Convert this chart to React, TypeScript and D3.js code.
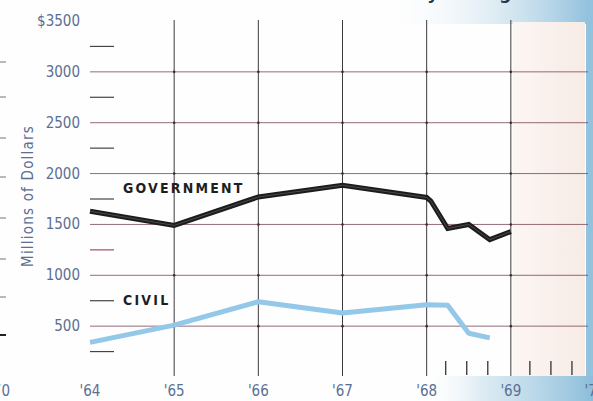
import React from "react";
import * as d3 from "d3";

const yearTicks = [1964, 1965, 1966, 1967, 1968, 1969, 1970];
const yearLabels = ["'64", "'65", "'66", "'67", "'68", "'69", "'70"];
const gridYears = [1965, 1966, 1967, 1968, 1969];
const valueTicks = [500, 1000, 1500, 2000, 2500, 3000, 3500];
const valueLabels = ["500", "1000", "1500", "2000", "2500", "3000", "$3500"];
const minorValues = [250, 750, 1250, 1750, 2250, 2750, 3250];
const quarterTicks = [1968.25, 1968.5, 1968.75, 1969.25, 1969.5, 1969.75];

const govYears = [1964, 1965, 1966, 1967, 1968, 1968.05, 1968.25, 1968.5, 1968.75, 1969];
const govValues = [1630, 1490, 1770, 1885, 1765, 1730, 1460, 1500, 1350, 1430];
const civilYears = [1964, 1965, 1966, 1967, 1968, 1968.25, 1968.5, 1968.75];
const civilValues = [340, 510, 740, 630, 710, 705, 430, 385];

const seriesLabels = ["GOVERNMENT", "CIVIL"];
const leftEdgeTicks = [62, 97, 138, 177, 218, 259, 297, 335];

const W = 593;
const H = 401;
const FONT = "'Liberation Sans Narrow', 'DejaVu Sans Condensed', 'Roboto Condensed', sans-serif";

export default function App() {
  const x = d3.scaleLinear().domain([1964, 1970]).range([90, 595]);
  const y = d3.scaleLinear().domain([0, 3500]).range([377, 21]);

  const line = d3
    .line<[number, number]>()
    .x((d) => x(d[0]))
    .y((d) => y(d[1]));

  const govPts: [number, number][] = govYears.map((yr, i) => [yr, govValues[i]]);
  const civPts: [number, number][] = civilYears.map((yr, i) => [yr, civilValues[i]]);

  const grid = "#7a4656";
  const labelColor = "#5b6f93";

  return (
    <svg
      width={W}
      height={H}
      style={{ position: "absolute", left: 0, top: 0, display: "block" }}
      fontFamily={FONT}
    >
      <defs>
        <linearGradient id="topRight" x1="0" y1="0" x2="1" y2="0">
          <stop offset="0" stopColor="#ffffff" stopOpacity="0" />
          <stop offset="0.55" stopColor="#cfe3ef" stopOpacity="0.7" />
          <stop offset="1" stopColor="#8fbfdc" stopOpacity="1" />
        </linearGradient>
        <linearGradient id="bottomRight" x1="0" y1="0" x2="1" y2="0">
          <stop offset="0" stopColor="#ffffff" stopOpacity="0" />
          <stop offset="0.35" stopColor="#d6e7f1" stopOpacity="0.8" />
          <stop offset="1" stopColor="#8cbedb" stopOpacity="1" />
        </linearGradient>
        <linearGradient id="pink" x1="0" y1="0" x2="1" y2="0">
          <stop offset="0" stopColor="#fcf6f3" />
          <stop offset="1" stopColor="#f7ebe5" />
        </linearGradient>
      </defs>
      <rect x={0} y={0} width={W} height={H} fill="#fefefe" />
      <rect x={380} y={0} width={213} height={24} fill="url(#topRight)" />
      <rect x={x(1969) + 2} y={22} width={585 - x(1969) - 2} height={355} fill="url(#pink)" />
      <rect x={586} y={0} width={7} height={H} fill="#93c2de" />
      <rect x={420} y={376} width={173} height={25} fill="url(#bottomRight)" />

      {/* partial title at top (cut by the edge, as in the source) */}
      <text
        x={523}
        y={-1}
        textAnchor="end"
        fontSize={17}
        fontWeight="bold"
        fill="#2b3552"
        fontFamily="'DejaVu Sans', sans-serif"
      >
        Prime Contract Monthly Average
      </text>

      {/* left edge stray ticks from neighbouring chart */}
      {leftEdgeTicks.map((ty, i) => (
        <line
          key={"le" + i}
          x1={0}
          x2={6}
          y1={ty}
          y2={ty}
          stroke={i === leftEdgeTicks.length - 1 ? "#222" : "#777"}
          strokeWidth={i === leftEdgeTicks.length - 1 ? 2 : 1}
        />
      ))}
      <text x={10} y={396} textAnchor="end" fontSize={15} fill={labelColor}>
        '70
      </text>

      {/* horizontal gridlines */}
      {valueTicks
        .filter((v) => v < 3500)
        .map((v) => (
          <line key={"h" + v} x1={x(1964)} x2={588} y1={y(v)} y2={y(v)} stroke={grid} strokeWidth={1} strokeOpacity={0.8} />
        ))}
      {/* vertical gridlines */}
      {gridYears.map((yr) => (
        <line key={"v" + yr} x1={x(yr)} x2={x(yr)} y1={20} y2={376} stroke="#3d3a40" strokeWidth={1} />
      ))}
      {/* intersection dots */}
      {gridYears.map((yr) =>
        valueTicks
          .filter((v) => v < 3500)
          .map((v) => <circle key={"d" + yr + v} cx={x(yr)} cy={y(v)} r={1.3} fill="#3a2f38" />)
      )}
      {/* minor dashes */}
      {minorValues.map((v) => (
        <line
          key={"m" + v}
          x1={x(1964)}
          x2={x(1964) + 24}
          y1={y(v)}
          y2={y(v)}
          stroke={v === 1250 ? "#a05060" : "#444"}
          strokeWidth={1.2}
        />
      ))}
      {/* quarter ticks */}
      {quarterTicks.map((q) => (
        <line key={"q" + q} x1={x(q) - 2} x2={x(q) - 2} y1={361} y2={375} stroke="#333" strokeWidth={1.3} />
      ))}

      {/* y labels */}
      {valueTicks.map((v, i) => (
        <text key={"yl" + v} x={80} y={y(v) + 5} textAnchor="end" fontSize={15} fill={labelColor}>
          {valueLabels[i]}
        </text>
      ))}
      <text
        transform={`translate(33, 196) rotate(-90)`}
        textAnchor="middle"
        fontSize={15}
        letterSpacing={1.2}
        fill={labelColor}
      >
        Millions of Dollars
      </text>

      {/* x labels */}
      {yearTicks.map((yr, i) => (
        <text key={"xl" + yr} x={x(yr)} y={396} textAnchor="middle" fontSize={15} fill={labelColor}>
          {yearLabels[i]}
        </text>
      ))}

      {/* series */}
      <path d={line(civPts) || ""} fill="none" stroke="#93c8e8" strokeWidth={5} strokeLinejoin="round" strokeLinecap="butt" />
      <path d={line(govPts) || ""} fill="none" stroke="#1c1c1c" strokeWidth={5} strokeLinejoin="miter" strokeLinecap="butt" />
      <path d={line(govPts) || ""} fill="none" stroke="#4a4a4a" strokeWidth={1} strokeLinejoin="miter" />

      {/* series labels */}
      <text x={123} y={193} fontSize={14} fontWeight="bold" fill="#1e1e1e" letterSpacing={2.2}>
        {seriesLabels[0]}
      </text>
      <text x={123} y={305} fontSize={14} fontWeight="bold" fill="#1e1e1e" letterSpacing={2.2}>
        {seriesLabels[1]}
      </text>
    </svg>
  );
}
